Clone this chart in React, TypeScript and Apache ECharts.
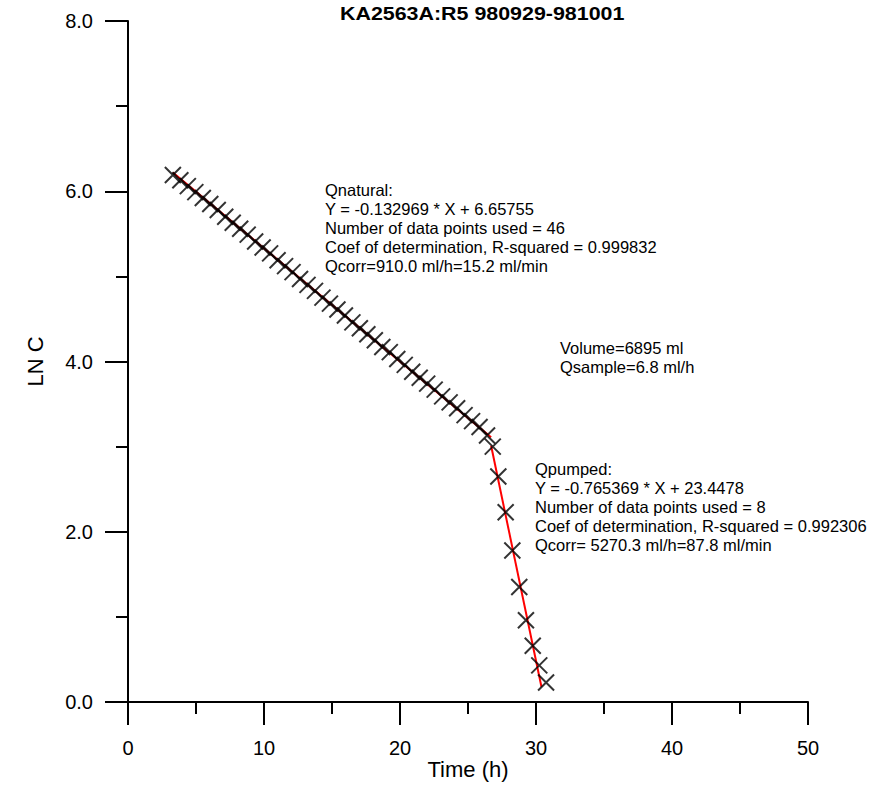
import React, { useEffect, useRef } from "react";
import * as echarts from "echarts";

const naturalTime = [
  3.3, 3.85, 4.4, 4.95, 5.5, 6.05, 6.6, 7.15, 7.7, 8.25, 8.8, 9.35, 9.9, 10.45, 11.0,
  11.55, 12.1, 12.65, 13.2, 13.75, 14.3, 14.85, 15.4, 15.95, 16.5, 17.05, 17.6, 18.15,
  18.7, 19.25, 19.8, 20.35, 20.9, 21.45, 22.0, 22.55, 23.1, 23.65, 24.2, 24.75, 25.3,
  25.85, 26.4,
];
const naturalLnC = [
  6.19, 6.13, 6.06, 5.99, 5.92, 5.85, 5.78, 5.7, 5.63, 5.56, 5.49, 5.41, 5.34, 5.27, 5.19,
  5.12, 5.05, 4.97, 4.9, 4.83, 4.75, 4.68, 4.61, 4.54, 4.46, 4.39, 4.32, 4.25, 4.17, 4.11,
  4.03, 3.96, 3.88, 3.81, 3.74, 3.67, 3.59, 3.52, 3.45, 3.37, 3.3, 3.23, 3.13,
];
const pumpedTime = [26.82, 27.23, 27.77, 28.26, 28.77, 29.26, 29.76, 30.24, 30.74];
const pumpedLnC = [3.0, 2.65, 2.23, 1.78, 1.35, 0.96, 0.66, 0.43, 0.23];

const naturalFitTime = [3.3, 26.7];
const naturalFitLnC = [6.22, 3.11];
const pumpedFitTime = [26.7, 30.4];
const pumpedFitLnC = [3.01, 0.18];

const titleText = "KA2563A:R5 980929-981001";
const naturalNote = [
  "Qnatural:",
  "Y = -0.132969 * X + 6.65755",
  "Number of data points used = 46",
  "Coef of determination, R-squared = 0.999832",
  "Qcorr=910.0 ml/h=15.2 ml/min",
];
const volumeNote = ["Volume=6895 ml", "Qsample=6.8 ml/h"];
const pumpedNote = [
  "Qpumped:",
  "Y = -0.765369 * X + 23.4478",
  "Number of data points used = 8",
  "Coef of determination, R-squared = 0.992306",
  "Qcorr= 5270.3 ml/h=87.8 ml/min",
];

const FONT = "Liberation Sans, Arial, sans-serif";
const xMark = "path://M0,0L16,16M16,0L0,16";

export default function App() {
  const ref = useRef<HTMLDivElement>(null);
  useEffect(() => {
    document.body.style.margin = "0";
    if (!ref.current) return;
    const chart = echarts.init(ref.current, undefined, { renderer: "svg" });
    const zip = (a: number[], b: number[]) => a.map((v, i) => [v, b[i]]);
    const noteText = (lines: string[], x: number, y: number) => ({
      type: "text",
      left: x,
      top: y,
      style: {
        text: lines.join("\n"),
        font: `16.5px ${FONT}`,
        fill: "#000",
        lineHeight: 19,
      },
    });
    chart.setOption({
      animation: false,
      backgroundColor: "#fff",
      grid: { left: 128, right: 64, top: 21, bottom: 85, containLabel: false },
      xAxis: {
        type: "value",
        min: 0,
        max: 50,
        interval: 10,
        name: "Time (h)",
        nameLocation: "middle",
        nameGap: 56,
        nameMoveOverlap: false,
        nameTextStyle: { fontFamily: FONT, fontSize: 22, color: "#000" },
        axisLine: { onZero: false, lineStyle: { color: "#000", width: 2 } },
        axisTick: { show: true, length: 23, lineStyle: { color: "#000", width: 2 } },
        minorTick: { show: true, splitNumber: 2, length: 12, lineStyle: { color: "#000", width: 2 } },
        axisLabel: { margin: 36, fontFamily: FONT, fontSize: 20, color: "#000" },
        splitLine: { show: false },
      },
      yAxis: {
        type: "value",
        min: 0,
        max: 8,
        interval: 2,
        name: "LN C",
        nameLocation: "middle",
        nameGap: 82,
        nameMoveOverlap: false,
        nameTextStyle: { fontFamily: FONT, fontSize: 22, color: "#000" },
        axisLine: { show: true, onZero: false, lineStyle: { color: "#000", width: 2 } },
        axisTick: { show: true, length: 23, lineStyle: { color: "#000", width: 2 } },
        minorTick: { show: true, splitNumber: 2, length: 12, lineStyle: { color: "#000", width: 2 } },
        axisLabel: {
          margin: 35,
          fontFamily: FONT,
          fontSize: 20,
          color: "#000",
          formatter: (v: number) => v.toFixed(1),
        },
        splitLine: { show: false },
      },
      series: [
        {
          type: "line",
          data: zip(naturalFitTime, naturalFitLnC),
          showSymbol: false,
          lineStyle: { color: "#ff0000", width: 2 },
          z: 1,
        },
        {
          type: "line",
          data: zip(pumpedFitTime, pumpedFitLnC),
          showSymbol: false,
          lineStyle: { color: "#ff0000", width: 2 },
          z: 1,
        },
        {
          type: "scatter",
          data: zip(naturalTime, naturalLnC),
          symbol: xMark,
          symbolSize: 16,
          itemStyle: { color: "none", borderColor: "#000", borderWidth: 2 },
          z: 2,
        },
        {
          type: "scatter",
          data: zip(pumpedTime, pumpedLnC),
          symbol: xMark,
          symbolSize: 16,
          itemStyle: { color: "none", borderColor: "#000", borderWidth: 2 },
          z: 2,
        },
      ],
      graphic: [
        {
          type: "text",
          x: 340,
          y: 5,
          scaleX: 1.19,
          style: { text: titleText, font: `bold 18px ${FONT}`, fill: "#000" },
        },
        noteText(naturalNote, 325, 180),
        noteText(volumeNote, 560, 338),
        noteText(pumpedNote, 535, 459),
      ],
    });
    return () => chart.dispose();
  }, []);
  return <div ref={ref} style={{ width: 872, height: 787 }} />;
}
